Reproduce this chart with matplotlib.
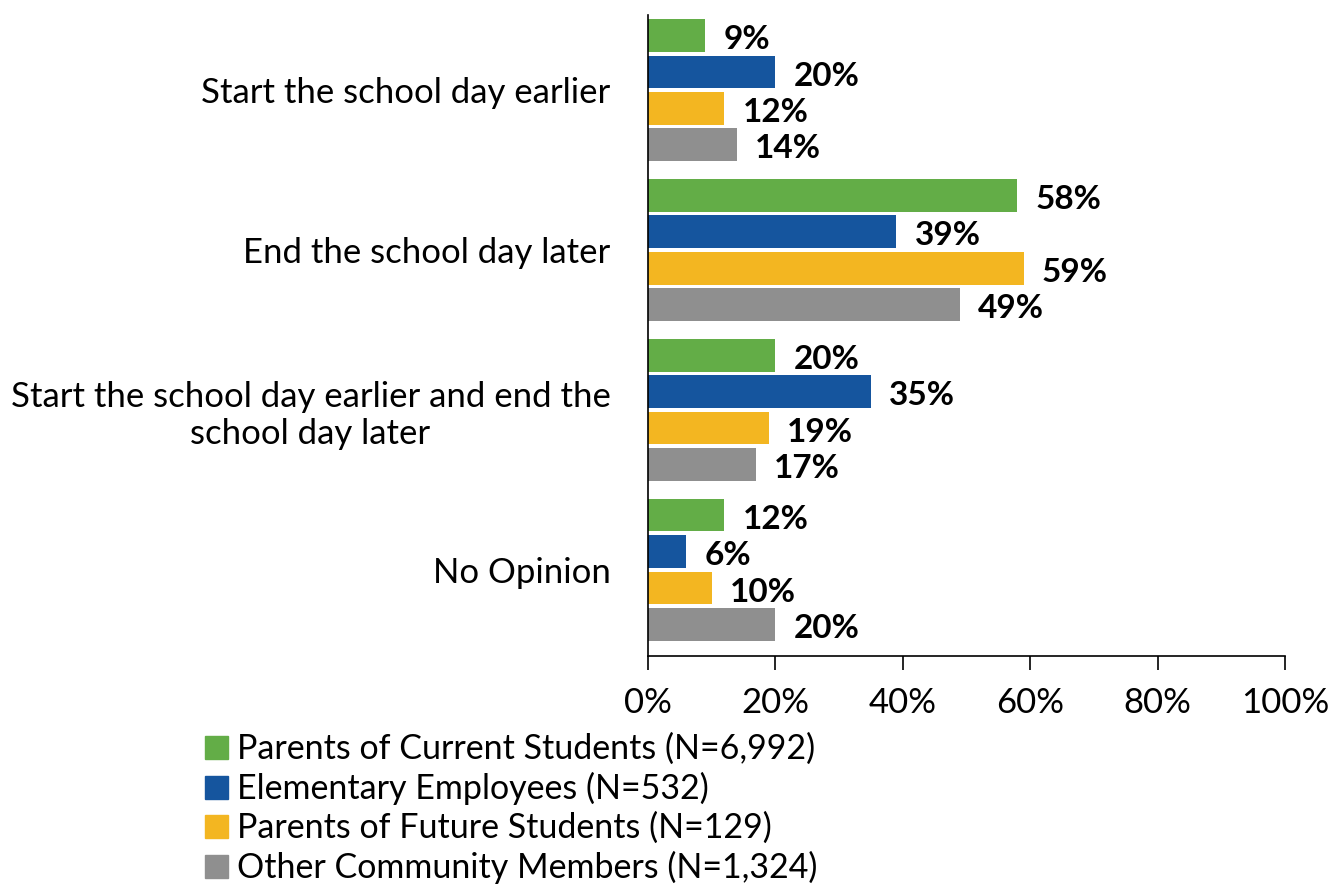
import matplotlib
matplotlib.use("Agg")
import matplotlib.pyplot as plt
import numpy as np
from matplotlib.ticker import FuncFormatter
from matplotlib.patches import Patch

categories = ["Start the school day earlier",
              "End the school day later",
              "Start the school day earlier and end the\nschool day later",
              "No Opinion"]
series = ["Parents of Current Students (N=6,992)",
          "Elementary Employees (N=532)",
          "Parents of Future Students (N=129)",
          "Other Community Members (N=1,324)"]
values = [
    [9, 58, 20, 12],
    [20, 39, 35, 6],
    [12, 59, 19, 10],
    [14, 49, 17, 20],
]
colors = ["#63AD47", "#15559E", "#F3B621", "#8F8F8F"]

plt.rcParams['font.family'] = ['Lato', 'DejaVu Sans']
fs = 25

fig = plt.figure(figsize=(13.32, 8.86), dpi=100)
ax = fig.add_axes([648/1332, 1 - 656/886, (1285 - 648)/1332, (656 - 15)/886])

y = np.arange(len(categories))
pitch = 0.228
h = 0.205
for i, (name, vals, c) in enumerate(zip(series, values, colors)):
    pos = y + (i - 1.5) * pitch
    ax.barh(pos, vals, height=h, color=c, label=name)
    for p, v in zip(pos, vals):
        ax.annotate(f"{v}%", (v, p), xytext=(13, -3), textcoords="offset points",
                    ha="left", va="center", fontsize=24, fontweight="bold")

ax.set_xlim(0, 100)
ax.set_ylim(3.54, -0.47)
ax.set_xticks(np.arange(0, 101, 20))
ax.xaxis.set_major_formatter(FuncFormatter(lambda v, p: f"{v:.0f}%"))
ax.tick_params(axis="x", direction="out", length=10, width=1.2, labelsize=fs, pad=12)
ax.set_yticks(y)
ax.set_yticklabels(categories, fontsize=fs, multialignment="center")
ax.tick_params(axis="y", length=0, pad=27)
for s in ["top", "right"]:
    ax.spines[s].set_visible(False)
ax.spines["left"].set_linewidth(1.2)
ax.spines["bottom"].set_linewidth(1.2)

handles = [Patch(color=c) for c in colors]
fig.legend(handles, series, loc="upper left", bbox_to_anchor=(205/1332, 1 - 733/886),
           frameon=False, fontsize=24.5, handlelength=0.68, handleheight=0.68,
           handletextpad=0.25, labelspacing=0.2, borderpad=0, borderaxespad=0)

fig.savefig("out.png", dpi=100)
